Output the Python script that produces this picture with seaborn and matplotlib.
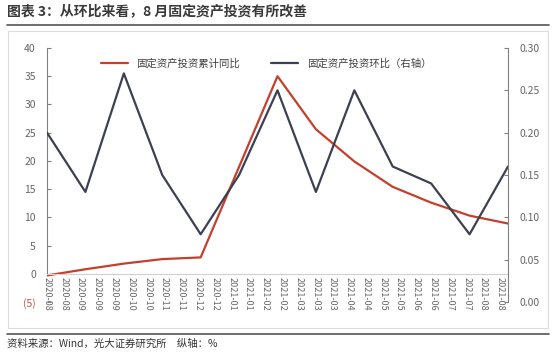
import numpy as np
import pandas as pd
import seaborn as sns
import matplotlib.pyplot as plt
from matplotlib.patches import Rectangle
from matplotlib.lines import Line2D
from matplotlib.ticker import FuncFormatter, FixedLocator

sns.set_style('white')
plt.rcParams['font.family'] = ['Noto Sans CJK SC', 'DejaVu Sans']

months = ['2020-08', '2020-09', '2020-10', '2020-11', '2020-12', '2021-01', '2021-02',
          '2021-03', '2021-04', '2021-05', '2021-06', '2021-07', '2021-08']
# 累计同比 (%), 2021-01 无数据
cum_yoy = [-0.3, 0.8, 1.8, 2.6, 2.9, None, 35.0, 25.6, 19.9, 15.4, 12.6, 10.3, 8.9]
# 环比 (%), 右轴
mom = [0.20, 0.13, 0.27, 0.15, 0.08, 0.15, 0.25, 0.13, 0.25, 0.16, 0.14, 0.08, 0.16]

tick_labels = ['2020-08', '2020-08', '2020-09', '2020-09', '2020-09', '2020-10', '2020-10',
               '2020-11', '2020-11', '2020-12', '2020-12', '2021-01', '2021-01', '2021-02',
               '2021-02', '2021-03', '2021-03', '2021-03', '2021-04', '2021-04', '2021-05',
               '2021-05', '2021-06', '2021-06', '2021-07', '2021-07', '2021-08', '2021-08']

name_cum = '固定资产投资累计同比'
name_mom = '固定资产投资环比（右轴）'
RED = '#c4402c'
DARK = '#3d4052'

df = pd.DataFrame({'idx': np.arange(len(months)), 'month': months,
                   'cum': cum_yoy, 'mom': mom})
df_cum = df.dropna(subset=['cum'])

fig = plt.figure(figsize=(5.56, 3.53), dpi=100)
ax = fig.add_axes([47 / 556, 1 - 302 / 353, 461 / 556, 254 / 353])
ax2 = ax.twinx()

sns.lineplot(data=df_cum, x='idx', y='cum', ax=ax, color=RED, linewidth=1.6)
sns.lineplot(data=df, x='idx', y='mom', ax=ax2, color=DARK, linewidth=1.6)

ax.set_xlim(0, len(months) - 1)
ax.set_ylim(-5, 40)
ax2.set_ylim(0, 0.30)
ax.set_xlabel('')
ax.set_ylabel('')
ax2.set_xlabel('')
ax2.set_ylabel('')

# x 轴在 0 处
ax.spines['bottom'].set_position(('data', 0))
ax.spines['bottom'].set_color('#d0d0d0')
ax.spines['top'].set_visible(False)
ax.spines['right'].set_visible(False)
ax.spines['left'].set_color('#808080')
ax.spines['left'].set_bounds(0, 40)
for s in ['top', 'left', 'bottom']:
    ax2.spines[s].set_visible(False)
ax2.spines['right'].set_color('#808080')

pos = np.arange(len(tick_labels)) * 0.437
ax.xaxis.set_major_locator(FixedLocator(pos))
ax.set_xticklabels(tick_labels, rotation=-90, fontsize=6.5, color='#666666')
ax.tick_params(axis='x', direction='in', length=2, color='#d0d0d0', pad=2)

ax.set_yticks(np.arange(-5, 41, 5))
ax.yaxis.set_major_formatter(FuncFormatter(lambda v, p: f'({abs(int(v))})' if v < 0 else f'{int(v)}'))
ax.tick_params(axis='y', direction='in', length=3, color='#808080', labelsize=7.5,
               labelcolor='#666666', pad=8)
for lab in ax.get_yticklabels():
    if lab.get_text().startswith('('):
        lab.set_color('#c0504d')

ax2.set_yticks(np.arange(0, 0.31, 0.05))
ax2.yaxis.set_major_formatter(FuncFormatter(lambda v, p: f'{v:.2f}'))
ax2.tick_params(axis='y', direction='in', length=3, color='#808080', labelsize=7.5,
                labelcolor='#666666', pad=8)

handles = [Line2D([], [], color=RED, lw=1.6), Line2D([], [], color=DARK, lw=1.6)]
ax2.legend(handles, [name_cum, name_mom], loc='center', bbox_to_anchor=(0.475, 0.937),
           ncol=2, frameon=False, fontsize=7.5, handlelength=2.6, columnspacing=3.0,
           labelcolor='#404040')

# 外框、标题、来源
fig.patches.append(Rectangle((8 / 556, 1 - 328 / 353), 540 / 556, 297 / 353,
                             transform=fig.transFigure, fill=False,
                             edgecolor='#dcdcdc', linewidth=0.8))
fig.add_artist(Line2D([7 / 556, 549 / 556], [1 - 25 / 353] * 2, transform=fig.transFigure,
                      color='#555555', lw=1.2))
fig.add_artist(Line2D([7 / 556, 549 / 556], [1 - 334 / 353] * 2, transform=fig.transFigure,
                      color='#555555', lw=1.2))
fig.text(7 / 556, 1 - 11 / 353, '图表 3：从环比来看，8 月固定资产投资有所改善', fontsize=10,
         fontweight='bold', color='#3a3a3a', va='center', ha='left')
fig.text(7 / 556, 1 - 344 / 353, '资料来源：Wind，光大证券研究所　纵轴：%', fontsize=7.5,
         color='#333333', va='center', ha='left')

fig.savefig('out.png', dpi=100, facecolor='white')
